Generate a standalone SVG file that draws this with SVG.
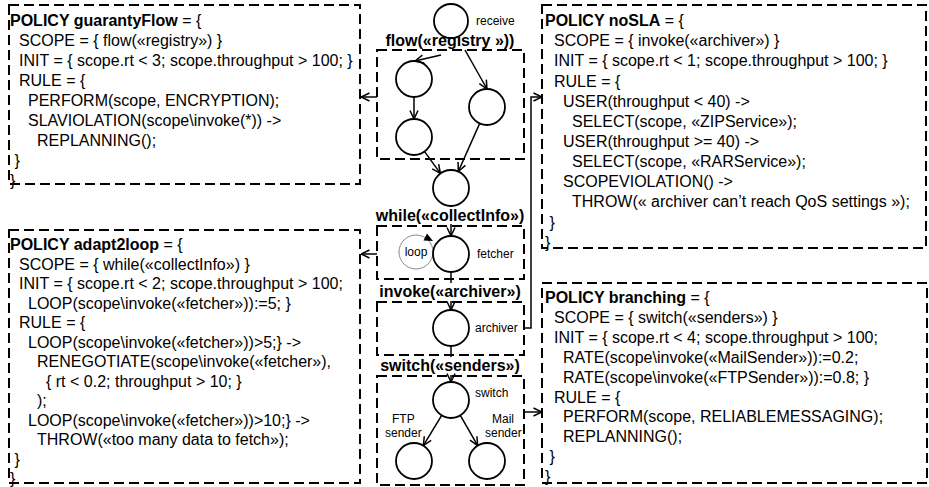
<svg xmlns="http://www.w3.org/2000/svg" width="929" height="487" viewBox="0 0 929 487">
<style>
  .box{fill:none;stroke:#000;stroke-width:2;stroke-dasharray:10,5}
  .pt{font-family:"Liberation Sans",Arial,sans-serif;font-size:16px;fill:#000}
  .b{font-weight:bold}
  .lbl{font-family:"Liberation Sans",Arial,sans-serif;font-size:16px;font-weight:bold;text-anchor:middle;fill:#000}
  .sm{font-family:"Liberation Sans",Arial,sans-serif;font-size:12px;fill:#000}
  .node{fill:#fff;stroke:#000;stroke-width:1.8}
  .edge{fill:none;stroke:#000;stroke-width:1.5;marker-end:url(#ah)}
</style>
<defs>
  <marker id="ah" viewBox="0 0 10 10" refX="9.5" refY="5" markerWidth="10" markerHeight="10" markerUnits="userSpaceOnUse" orient="auto">
    <path d="M1,1 L9.5,5 L1,9" fill="none" stroke="#000" stroke-width="1.5"/>
  </marker>
</defs>

<g id="policy-guarantyFlow">
  <rect class="box" x="9" y="5" width="351" height="179"/>
  <text class="pt" x="10" y="25.5"><tspan class="b">POLICY guarantyFlow</tspan> = {</text>
  <text class="pt" x="19" y="45.5">SCOPE = { flow(«registry») }</text>
  <text class="pt" x="19" y="65.5">INIT = { scope.rt &lt; 3; scope.throughput &gt; 100; }</text>
  <text class="pt" x="19" y="85.5">RULE = {</text>
  <text class="pt" x="28" y="105.5">PERFORM(scope, ENCRYPTION);</text>
  <text class="pt" x="28" y="125.5">SLAVIOLATION(scope\invoke(*)) -&gt;</text>
  <text class="pt" x="37" y="145.5">REPLANNING();</text>
  <text class="pt" x="14.5" y="165.5">}</text>
  <text class="pt" x="10" y="185.5">}</text>
</g>

<g id="policy-adapt2loop">
  <rect class="box" x="9" y="230" width="351" height="253"/>
  <text class="pt" x="10" y="250"><tspan class="b">POLICY adapt2loop</tspan> = {</text>
  <text class="pt" x="19" y="269.5">SCOPE = { while(«collectInfo») }</text>
  <text class="pt" x="19" y="289">INIT = { scope.rt &lt; 2; scope.throughput &gt; 100;</text>
  <text class="pt" x="28" y="308.5">LOOP(scope\invoke(«fetcher»)):=5; }</text>
  <text class="pt" x="19" y="328">RULE = {</text>
  <text class="pt" x="28" y="347.5">LOOP(scope\invoke(«fetcher»))&gt;5;} -&gt;</text>
  <text class="pt" x="37" y="367">RENEGOTIATE(scope\invoke(«fetcher»),</text>
  <text class="pt" x="46" y="386.5">{ rt &lt; 0.2; throughput &gt; 10; }</text>
  <text class="pt" x="37" y="406">);</text>
  <text class="pt" x="28" y="425.5">LOOP(scope\invoke(«fetcher»))&gt;10;} -&gt;</text>
  <text class="pt" x="37" y="445">THROW(«too many data to fetch»);</text>
  <text class="pt" x="14.5" y="464.5">}</text>
  <text class="pt" x="10" y="484">}</text>
</g>

<g id="policy-noSLA">
  <rect class="box" x="542" y="5" width="384" height="243"/>
  <text class="pt" x="545" y="26"><tspan class="b">POLICY noSLA</tspan> = {</text>
  <text class="pt" x="554" y="46">SCOPE = { invoke(«archiver») }</text>
  <text class="pt" x="554" y="66.3">INIT = { scope.rt &lt; 1; scope.throughput &gt; 100; }</text>
  <text class="pt" x="554" y="86.5">RULE = {</text>
  <text class="pt" x="563" y="106.6">USER(throughput &lt; 40) -&gt;</text>
  <text class="pt" x="572" y="126.8">SELECT(scope, «ZIPService»);</text>
  <text class="pt" x="563" y="147">USER(throughput &gt;= 40) -&gt;</text>
  <text class="pt" x="572" y="167">SELECT(scope, «RARService»);</text>
  <text class="pt" x="563" y="187.2">SCOPEVIOLATION() -&gt;</text>
  <text class="pt" x="572" y="207.4">THROW(« archiver can’t reach QoS settings »);</text>
  <text class="pt" x="549.5" y="227.5">}</text>
  <text class="pt" x="545" y="247.6">}</text>
</g>

<g id="policy-branching">
  <rect class="box" x="542" y="283" width="385" height="200"/>
  <text class="pt" x="545" y="303"><tspan class="b">POLICY branching</tspan> = {</text>
  <text class="pt" x="554" y="322.9">SCOPE = { switch(«senders») }</text>
  <text class="pt" x="554" y="342.8">INIT = { scope.rt &lt; 4; scope.throughput &gt; 100;</text>
  <text class="pt" x="563" y="362.7">RATE(scope\invoke(«MailSender»)):=0.2;</text>
  <text class="pt" x="563" y="382.6">RATE(scope\invoke(«FTPSender»)):=0.8; }</text>
  <text class="pt" x="554" y="402.5">RULE = {</text>
  <text class="pt" x="563" y="422.4">PERFORM(scope, RELIABLEMESSAGING);</text>
  <text class="pt" x="563" y="442.3">REPLANNING();</text>
  <text class="pt" x="549.5" y="462.2">}</text>
  <text class="pt" x="545" y="482.1">}</text>
</g>

<g id="scope-flow">
  <rect class="box" x="377" y="50" width="147" height="109"/>
  <text class="lbl" x="450" y="46">flow(«registry »))</text>
</g>
<g id="scope-while">
  <rect class="box" x="377" y="226" width="147" height="53"/>
  <text class="lbl" x="450" y="221">while(«collectInfo»)</text>
</g>
<g id="scope-invoke">
  <rect class="box" x="377" y="302" width="147" height="53"/>
  <text class="lbl" x="450" y="297">invoke(«archiver»)</text>
</g>
<g id="scope-switch">
  <rect class="box" x="377" y="376" width="147" height="109"/>
  <text class="lbl" x="450" y="371">switch(«senders»)</text>
</g>

<g id="node-receive">
  <circle class="node" cx="451" cy="21" r="17"/>
  <text class="sm" x="476" y="25">receive</text>
</g>
<g id="node-flow-a1"><circle class="node" cx="414" cy="79" r="18"/></g>
<g id="node-flow-a2"><circle class="node" cx="414" cy="137" r="18"/></g>
<g id="node-flow-b1"><circle class="node" cx="487" cy="107" r="18"/></g>
<g id="node-join"><circle class="node" cx="451" cy="188" r="18"/></g>
<g id="node-fetcher">
  <circle cx="416" cy="252" r="17" fill="none" stroke="#888" stroke-width="1"/>
  <polygon points="433,241 423.5,240.5 427,233.5" fill="#000"/>
  <text class="sm" x="416" y="256" text-anchor="middle">loop</text>
  <circle class="node" cx="451" cy="254" r="18"/>
  <text class="sm" x="477" y="258">fetcher</text>
</g>
<g id="node-archiver">
  <circle class="node" cx="451" cy="328" r="18"/>
  <text class="sm" x="475" y="332">archiver</text>
</g>
<g id="node-switch">
  <circle class="node" cx="451" cy="400" r="18"/>
  <text class="sm" x="475" y="397">switch</text>
</g>
<g id="node-ftp">
  <circle class="node" cx="414" cy="461" r="18"/>
  <text class="sm" x="392" y="423">FTP</text>
  <text class="sm" x="385" y="437">sender</text>
</g>
<g id="node-mail">
  <circle class="node" cx="487" cy="461" r="18"/>
  <text class="sm" x="492" y="423">Mail</text>
  <text class="sm" x="485" y="437">sender</text>
</g>

<g id="connectors">
  <line class="edge" x1="441" y1="55" x2="415" y2="61"/>
  <line class="edge" x1="465" y1="50" x2="487" y2="89"/>
  <line class="edge" x1="414" y1="97" x2="414" y2="119"/>
  <line class="edge" x1="424.6" y1="151.6" x2="440.4" y2="173.4"/>
  <line class="edge" x1="479.7" y1="123.4" x2="458.3" y2="171.5"/>
  <line x1="451" y1="206" x2="451" y2="207" stroke="#000" stroke-width="1.5"/>
  <line class="edge" x1="451" y1="224" x2="451" y2="236"/>
  <line x1="451" y1="272" x2="451" y2="283" stroke="#000" stroke-width="1.5"/>
  <line class="edge" x1="451" y1="301" x2="451" y2="310"/>
  <line x1="451" y1="346" x2="451" y2="357" stroke="#000" stroke-width="1.5"/>
  <line class="edge" x1="451" y1="375" x2="451" y2="382"/>
  <line class="edge" x1="441.7" y1="415.4" x2="423.3" y2="445.6"/>
  <line class="edge" x1="460.3" y1="415.4" x2="477.7" y2="445.6"/>
  <line class="edge" x1="377" y1="97" x2="361" y2="97"/>
  <line class="edge" x1="377" y1="254" x2="361" y2="254"/>
  <polyline class="edge" points="524,328 531,328 531,97 542,97"/>
  <line class="edge" x1="524" y1="412" x2="542" y2="412"/>
</g>
</svg>
